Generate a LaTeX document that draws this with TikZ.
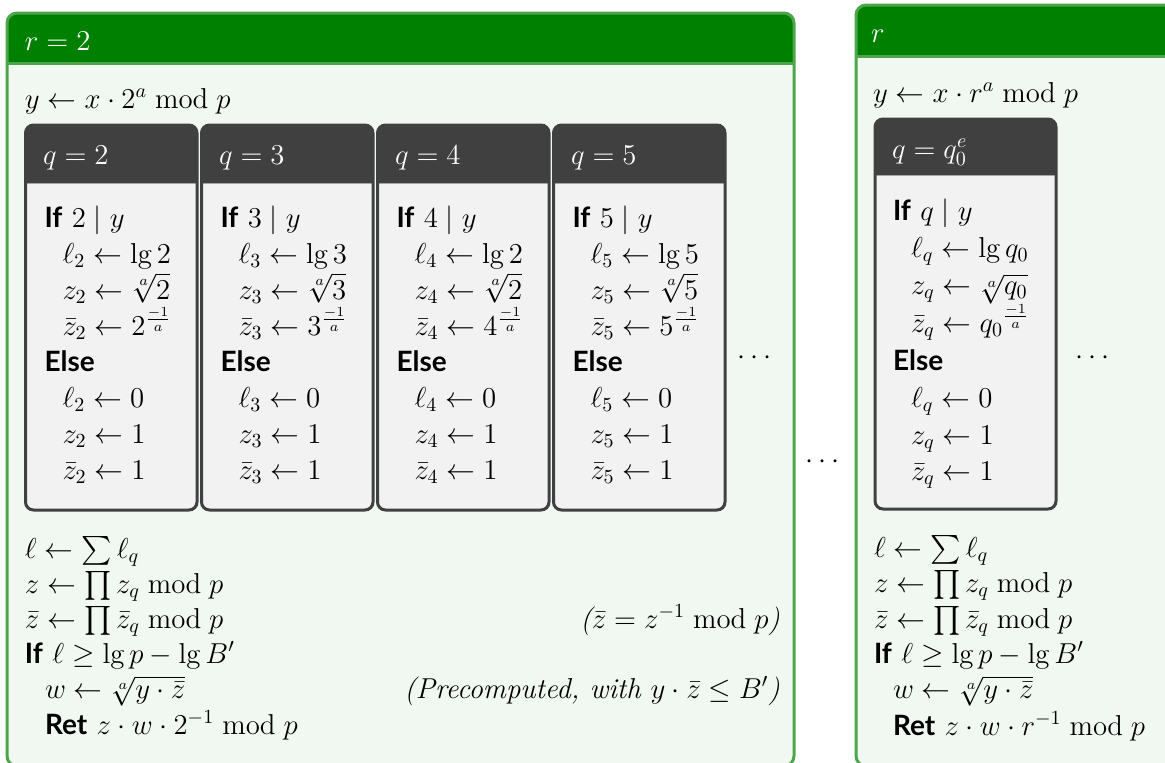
\documentclass[tikz,border=0pt]{standalone}
\usepackage{fontspec}
\usepackage{amsmath}
\newfontfamily\kwfont{Lato}
\definecolor{headgreen}{HTML}{008000}
\definecolor{framegreen}{HTML}{4CA64C}
\definecolor{bodygreen}{HTML}{F1F8F1}
\definecolor{headgray}{HTML}{404040}
\definecolor{bodygray}{HTML}{F2F2F2}
\newcommand{\kw}[1]{{\kwfont\bfseries\fontsize{14}{18}\selectfont #1}}

\begin{document}
\begin{tikzpicture}[
  x=0.5pt, y=-0.5pt,
  font=\fontsize{14.4}{18}\selectfont,
  every node/.style={inner sep=0pt, outer sep=0pt},
  line/.style={anchor=base west},
  note/.style={anchor=base east, font=\fontsize{14.4}{18}\selectfont\itshape},
  title/.style={anchor=base west, text=white},
  outerbox/.style={
    fill=bodygreen, draw=framegreen, line width=1.5pt,
    rounded corners=5pt,
    path picture={
      \fill[headgreen, sharp corners] (path picture bounding box.north west)
        rectangle ([yshift=-#1]path picture bounding box.north east);
      \draw[framegreen, sharp corners, line width=1.5pt]
        ([yshift=-#1]path picture bounding box.north west)
        -- ([yshift=-#1]path picture bounding box.north east);
    }
  },
  qbox/.style={
    fill=bodygray, draw=headgray, line width=1.5pt,
    rounded corners=4pt,
    path picture={
      \fill[headgray, sharp corners] (path picture bounding box.north west)
        rectangle ([yshift=-#1]path picture bounding box.north east);
      \draw[gray!70, sharp corners, line width=0.5pt]
        ([yshift=-#1-0.25pt]path picture bounding box.north west)
        -- ([yshift=-#1-0.25pt]path picture bounding box.north east);
    }
  }
]
\useasboundingbox (0,0) rectangle (1165,762);

% =============================================================================
% Left block: r = 2 (units = px of the page, y grows downwards)
% =============================================================================
\path[outerbox=25pt] (7,13) rectangle (794,766);
\node[title] (rtwo) at (25,50) {$r=2$};
\node[line] (ytwo) at (25,108) {$y\leftarrow x\cdot 2^a\bmod p$};

% --- one column per small q
\foreach \q/\b [count=\k from 0] in {2/2, 3/3, 4/2, 5/5}{
  \path[qbox=29pt] ({25.5+176*\k},125) rectangle ++(171.5,385);
  \node[title] (qhead\q) at ({43+176*\k},164) {$q=\q$};
  \node[line] (qif\q) at ({44.5+176*\k},227) {\kw{If} $\q\mid y$};
  \node[line] (qla\q) at ({62.5+176*\k},263) {$\ell_\q\leftarrow\lg\b$};
  \node[line] (qza\q) at ({62.5+176*\k},299) {$z_\q\leftarrow\sqrt[a]{\b}$};
  \node[line] (qzba\q) at ({62.5+176*\k},335) {$\bar z_\q\leftarrow\q^{\frac{-1}{a}}$};
  \node[line] (qelse\q) at ({44.5+176*\k},371) {\kw{Else}};
  \node[line] (qlb\q) at ({62.5+176*\k},407) {$\ell_\q\leftarrow0$};
  \node[line] (qzb\q) at ({62.5+176*\k},443) {$z_\q\leftarrow1$};
  \node[line] (qzbb\q) at ({62.5+176*\k},479) {$\bar z_\q\leftarrow1$};
}
\node (moreq) at (757,358) {$\cdots$};

% --- combination
\node[line] (lsum) at (25,558) {$\ell\leftarrow\sum\ell_q$};
\node[line] (zprod) at (25,593) {$z\leftarrow\prod z_q\bmod p$};
\node[line] (zbprod) at (25,628) {$\bar z\leftarrow\prod\bar z_q\bmod p$};
\node[line] (iftest) at (25,663) {\kw{If} $\ell\geq\lg p-\lg B'$};
\node[line] (wroot) at (45,698) {$w\leftarrow\sqrt[a]{y\cdot\bar z}$};
\node[line] (ret) at (45,734) {\kw{Ret} $z\cdot w\cdot 2^{-1}\bmod p$};
\node[note] (noteinv) at (780,628) {($\bar z=z^{-1}\bmod p$)};
\node[note] (notepre) at (780,698) {(Precomputed, with $y\cdot\bar z\leq B'$)};

\node (morer) at (825,462) {$\cdots$};

% =============================================================================
% Right block: general r
% =============================================================================
\path[outerbox=25.5pt] (856,5) rectangle (1190,766);
\node[title] (rgen) at (871,42) {$r$};
\node[line] (ygen) at (873,102) {$y\leftarrow x\cdot r^a\bmod p$};

\path[qbox=28pt] (875,119) rectangle (1056,509);
\node[title] (qheadg) at (892,158) {$q=q_0^e$};
\node[line] (qifg) at (893,220) {\kw{If} $q\mid y$};
\node[line] (qlag) at (911,257) {$\ell_q\leftarrow\lg q_0$};
\node[line] (qzag) at (911,294) {$z_q\leftarrow\sqrt[a]{q_0}$};
\node[line] (qzbag) at (911,332) {$\bar z_q\leftarrow {q_0}^{\frac{-1}{a}}$};
\node[line] (qelseg) at (893,370) {\kw{Else}};
\node[line] (qlbg) at (911,407) {$\ell_q\leftarrow0$};
\node[line] (qzbg) at (911,444) {$z_q\leftarrow1$};
\node[line] (qzbbg) at (911,480) {$\bar z_q\leftarrow1$};
\node (moreqg) at (1095,358) {$\cdots$};

\node[line] (lsumg) at (874,557) {$\ell\leftarrow\sum\ell_q$};
\node[line] (zprodg) at (874,592) {$z\leftarrow\prod z_q\bmod p$};
\node[line] (zbprodg) at (874,628) {$\bar z\leftarrow\prod\bar z_q\bmod p$};
\node[line] (iftestg) at (874,663) {\kw{If} $\ell\geq\lg p-\lg B'$};
\node[line] (wrootg) at (893,698) {$w\leftarrow\sqrt[a]{y\cdot\bar z}$};
\node[line] (retg) at (893,735) {\kw{Ret} $z\cdot w\cdot r^{-1}\bmod p$};

\end{tikzpicture}
\end{document}
